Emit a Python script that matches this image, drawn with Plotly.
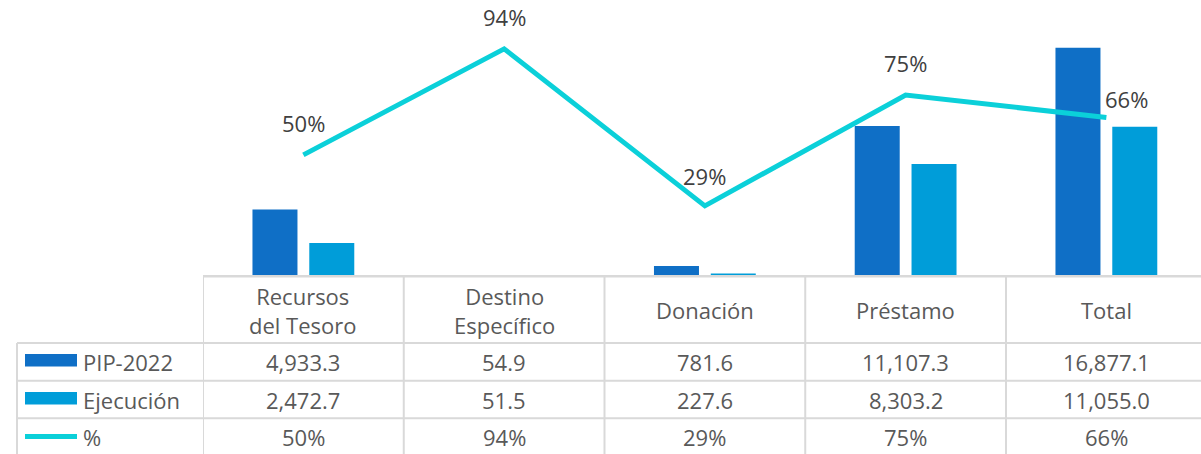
import plotly.graph_objects as go

# ---- data ----
categories = ["Recursos<br>del Tesoro", "Destino<br>Específico", "Donación", "Préstamo", "Total"]
cat_keys = ["Recursos del Tesoro", "Destino Específico", "Donación", "Préstamo", "Total"]
pip_2022 = [4933.3, 54.9, 781.6, 11107.3, 16877.1]
ejecucion = [2472.7, 51.5, 227.6, 8303.2, 11055.0]
pct = [0.501, 0.938, 0.291, 0.748, 0.655]
series_names = ["PIP-2022", "Ejecución", "%"]

# ---- style ----
W, H = 1201, 454
C_PIP = "#0F6FC6"
C_EJE = "#009DD9"
C_PCT = "#0BD0D9"
GRID = "#D9D9D9"
TXT = "#595959"
FONT = "Open Sans"
FS = 22

plot_left = 203
plot_bottom = 276.5
cat_w = 200.75
px_per_unit = 0.013557
px_per_pct = 242.7

def py(p):
    return 1 - p / H

def pxp(p):
    return p / W

fig = go.Figure()
fig.add_trace(go.Bar(x=cat_keys, y=pip_2022, name=series_names[0], marker_color=C_PIP,
                     marker_line_width=0))
fig.add_trace(go.Bar(x=cat_keys, y=ejecucion, name=series_names[1], marker_color=C_EJE,
                     marker_line_width=0))
fig.add_trace(go.Scatter(x=cat_keys, y=pct, name=series_names[2], yaxis="y2", mode="lines",
                         line=dict(color=C_PCT, width=5)))

annotations = []
# line data labels
shifts = [(0, 32), (0, 32), (0, 30), (0, 32), (20, 19)]
for k, v, (dx, dy) in zip(cat_keys, pct, shifts):
    annotations.append(dict(x=k, y=v, xref="x", yref="y2", text=f"{v:.0%}", showarrow=False,
                            xshift=dx, yshift=dy, font=dict(family=FONT, size=FS, color="#404040")))

# table header
for k, lab in zip(cat_keys, categories):
    annotations.append(dict(x=k, y=py(310), xref="x", yref="paper", text=lab, showarrow=False,
                            yanchor="middle", font=dict(family=FONT, size=FS, color=TXT)))
# table rows
row_centers = [362, 399.5, 436.5]
rows = [[f"{v:,.1f}" for v in pip_2022], [f"{v:,.1f}" for v in ejecucion], [f"{v:.0%}" for v in pct]]
for rc, vals, name in zip(row_centers, rows, series_names):
    for k, t in zip(cat_keys, vals):
        annotations.append(dict(x=k, y=py(rc), xref="x", yref="paper", text=t, showarrow=False,
                                yanchor="middle", font=dict(family=FONT, size=FS, color=TXT)))
    annotations.append(dict(x=pxp(81), y=py(rc), xref="paper", yref="paper", text=name,
                            showarrow=False, xanchor="left", yanchor="middle",
                            font=dict(family=FONT, size=FS, color=TXT)))

shapes = []
line_style = dict(color=GRID, width=2)
# horizontal lines
shapes.append(dict(type="line", xref="paper", yref="paper", x0=pxp(plot_left), x1=1,
                   y0=py(plot_bottom - 0.3), y1=py(plot_bottom - 0.3),
                   line=dict(color=GRID, width=2.6)))
for yy in [343, 380.7, 418.3]:
    shapes.append(dict(type="line", xref="paper", yref="paper", x0=pxp(17), x1=1,
                       y0=py(yy), y1=py(yy), line=line_style))
# vertical lines
shapes.append(dict(type="line", xref="paper", yref="paper", x0=pxp(17), x1=pxp(17),
                   y0=py(343), y1=0, line=line_style))
for i in range(len(cat_keys)):
    shapes.append(dict(type="line", xref="x", yref="paper", x0=i - 0.5, x1=i - 0.5,
                       y0=py(plot_bottom), y1=0, line=line_style))
# legend keys
shapes.append(dict(type="rect", xref="paper", yref="paper", x0=pxp(25), x1=pxp(77),
                   y0=py(354), y1=py(366.5), fillcolor=C_PIP, line_width=0))
shapes.append(dict(type="rect", xref="paper", yref="paper", x0=pxp(25), x1=pxp(77),
                   y0=py(392), y1=py(404.5), fillcolor=C_EJE, line_width=0))
shapes.append(dict(type="line", xref="paper", yref="paper", x0=pxp(25), x1=pxp(77),
                   y0=py(436.5), y1=py(436.5), line=dict(color=C_PCT, width=5)))

fig.update_layout(
    width=W, height=H,
    margin=dict(l=0, r=0, t=0, b=0),
    paper_bgcolor="white", plot_bgcolor="white",
    showlegend=False,
    barmode="group", bargap=0.434, bargroupgap=0.208,
    xaxis=dict(domain=[pxp(plot_left), 1], range=[-0.5, -0.5 + (W - plot_left) / cat_w],
               visible=False, type="category", categoryorder="array", categoryarray=cat_keys),
    yaxis=dict(domain=[py(plot_bottom), 1], range=[0, plot_bottom / px_per_unit], visible=False),
    yaxis2=dict(domain=[py(plot_bottom), 1], overlaying="y", range=[0, plot_bottom / px_per_pct],
                visible=False),
    annotations=annotations,
    shapes=shapes,
)

fig.write_html("out.html", config={"displayModeBar": False},
               post_script="document.body.style.margin='0px';document.body.style.overflow='hidden';")
